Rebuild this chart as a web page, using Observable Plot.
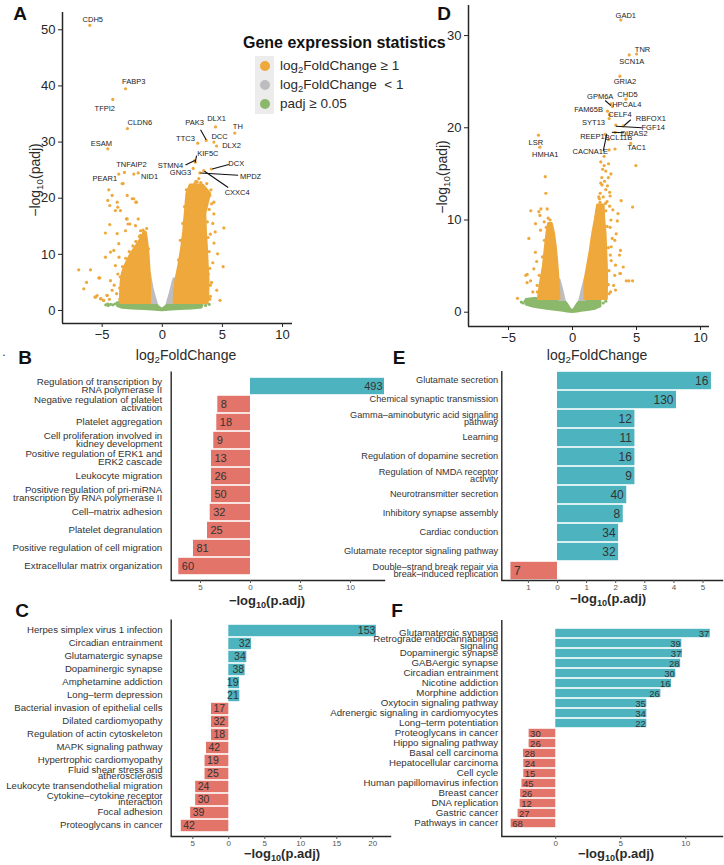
<!DOCTYPE html>
<html><head><meta charset="utf-8">
<script src="https://cdn.jsdelivr.net/npm/d3@7"></script>
<script src="https://cdn.jsdelivr.net/npm/@observablehq/plot@0.6"></script>
<style>
body{margin:0;background:#fff;}
#fig{position:relative;width:724px;height:865px;overflow:hidden;font-family:"Liberation Sans",Arial,Helvetica,sans-serif;color:#2b2b2b;background:#fff;}
.t{position:absolute;white-space:nowrap;line-height:1;}
</style></head>
<body><div id="fig"></div>
<script>
// ---------------- Panel A (volcano) ----------------
const aGreenX  = [-3.7, -3.3, -2.5, -1.5, -0.8, -0.5, -0.3, 0, 0.3, 0.5, 0.8, 1.5, 2.5, 3.3];
const aGreenLo = [0.75, 0.45, 0.3, 0.2, 0.12, 0.08, 0.05, 0.0, 0.05, 0.08, 0.12, 0.2, 0.3, 0.5];
const aGreenHi = [1.35, 1.4, 1.45, 1.45, 1.45, 1.2, 0.6, 0.15, 0.6, 1.2, 1.45, 1.45, 1.45, 1.3];
const aGreenDotX = [-4.7, -4.5, -4.3, -4.1, -3.9, -4.55, 3.3, 3.6, 3.9];
const aGreenDotY = [1.0, 0.9, 1.1, 1.0, 1.2, 1.15, 1.0, 0.9, 1.1];
const aGrayLY  = [1.3, 2.5, 4, 5.5, 6.5];
const aGrayLX1 = [-1.0, -1.0, -1.0, -1.0, -1.0];
const aGrayLX2 = [-0.45, -0.62, -0.8, -0.93, -1.0];
const aGrayRY  = [1.3, 2.5, 4, 5.0, 5.6];
const aGrayRX1 = [0.45, 0.62, 0.8, 0.92, 1.0];
const aGrayRX2 = [1.0, 1.0, 1.0, 1.0, 1.0];
const aOrLY  = [1.3, 3, 5, 6.5, 7.5, 8.5, 9.8, 10.8, 11.6, 12.8, 13.9];
const aOrLX1 = [-3.45, -3.45, -3.4, -3.3, -3.15, -2.95, -2.65, -2.35, -2.1, -1.75, -1.45];
const aOrLX2 = [-1.0, -1.0, -1.0, -1.02, -1.05, -1.08, -1.12, -1.16, -1.2, -1.27, -1.35];
const aOrRY  = [1.3, 3, 5.3, 8, 11.3, 14, 17.2, 19, 20.8, 22.3];
const aOrRX1 = [1.0, 1.05, 1.15, 1.4, 1.65, 1.8, 1.93, 2.0, 2.07, 2.35];
const aOrRX2 = [3.8, 3.85, 3.87, 3.8, 3.73, 3.65, 3.6, 3.8, 4.0, 3.4];
const aDotX = [-6.95,-5.97,-6.3,-6.53,-5.28,-5.2,-5.56,-5.14,-4.87,-4.73,-4.31,-4.73,-4.37,-4.17,-4.37,-3.75,-3.9,-3.48,-2.92,-2.5,-2.15,-2.92,-2.7,-2.0,-3.75,-3.62,-4.03,-4.31,-4.17,-4.58,-5.42,-1.81,-1.54,-2.23,-4.53,-4.45,-3.7,-3.34,-2.37,-2.2,-2.98,-2.85,-3.06,-1.81,-1.7,-3.26,-4.9,-4.6,-5.1,-5.6,-4.4,-3.9,-3.7,-4.0,-3.8,-3.6,-2.37,
  5.12,5.06,2.35,3.32,3.55,3.96,4.29,2.5,2.1,1.9,1.7,4.29,4.0,4.6,3.83,4.53,4.8,3.04,2.4,2.8,3.7,4.1,4.2,4.3,4.2,4.1,4.0,2.2,1.85,1.6,1.45,4.4,3.6,3.3,2.6,2.0];
const aDotY = [7.25,7.25,5.0,3.86,5.8,5.8,2.37,2.08,1.78,9.5,10.4,13.8,15.3,20.5,18.7,19.3,17.8,17.8,20.5,19.9,19.3,16.3,15.4,16.3,13.7,11.9,10.7,5.3,3.6,2.67,2.67,13.4,13.9,15.1,19.6,21.5,18.4,22.6,19.9,19.3,16.3,15.4,14.2,14.2,13.0,22.6,1.8,2.7,2.1,2.4,2.0,8.0,6.5,4.5,3.0,9.5,24.3,
  14.7,7.8,22.3,22.0,21.1,20.5,19.3,18.4,17.2,13.6,10.1,17.2,13.6,10.1,6.5,3.6,1.8,23.5,22.2,23.0,22.6,19.0,15.5,12.0,8.5,5.0,2.5,20.0,16.0,12.5,8.5,14.0,18.8,20.5,21.0,19.5];
const aEdgeX = [1.05,1.2,1.35,1.5,1.7,1.85,2.0,3.95,4.0,3.95,3.9,3.8,3.75,3.9,4.05,3.2,2.7,2.9,
  -3.55,-3.55,-3.5,-3.3,-3.05,-2.75,-2.45,-2.2,-1.9,-1.6,-1.3,-1.15];
const aEdgeY = [3.5,6.0,9.0,12.5,15.5,18.5,21.5,2.0,4.5,7.5,10.5,13.0,15.8,18.0,21.5,22.8,22.6,22.9,
  2.0,4.0,6.0,7.8,9.3,10.5,11.5,12.3,13.2,14.3,14.6,11.0];
const aGeneNames = ["CDH5","FABP3","TFPI2","CLDN6","ESAM","TNFAIP2","PEAR1","NID1","PAK3","DLX1","TH","TTC3","DCC","DLX2","KIF5C","STMN4","GNG3","DCX","MPDZ","CXXC4"];
const aGeneX  = [-6.03,-3.06,-4.12,-2.9,-4.53,-3.15,-3.62,-2.0,3.65,4.43,6.03,2.95,4.29,4.51,2.74,2.7,2.57,4.07,3.12,3.45];
const aGeneY  = [50.8,39.5,37.6,32.4,28.8,24.6,24.3,24.5,30.3,32.7,31.6,29.8,30.0,29.3,26.4,26.7,25.3,25.2,24.5,24.9];
const aLabelX = [-5.78,-2.37,-4.78,-1.87,-5.06,-2.56,-4.78,-1.06,2.68,4.51,6.28,1.93,4.76,5.76,3.79,0.68,1.51,6.15,7.34,6.23];
const aLabelY = [51.9,40.8,36.0,33.4,29.8,25.95,23.5,23.9,33.5,34.15,32.8,30.6,31.0,29.3,27.9,25.8,24.5,26.1,23.9,21.0];
const aSegX1 = [3.18, 1.93, 2.85, 5.53, 6.31, 5.48];
const aSegY1 = [32.2, 25.9, 27.6, 26.0, 24.1, 21.9];
const aSegX2 = [3.65, 2.7, 2.74, 4.15, 3.18, 3.51];
const aSegY2 = [30.4, 26.7, 26.4, 25.2, 24.5, 24.8];
const aYTicks = [0, 10, 20, 30, 40, 50];

// ---------------- Panel D (volcano) ----------------
const dGreenX  = [-3.6, -3.0, -2.0, -1.2, -0.7, -0.4, -0.2, 0, 0.2, 0.4, 0.7, 1.2, 1.8, 2.2];
const dGreenLo = [0.8, 0.55, 0.35, 0.2, 0.12, 0.06, 0.03, 0, 0.03, 0.06, 0.12, 0.2, 0.35, 0.6];
const dGreenHi = [1.35, 1.45, 1.45, 1.45, 1.35, 0.85, 0.4, 0.1, 0.4, 0.85, 1.35, 1.45, 1.45, 1.35];
const dGreenDotX = [-4.0, -3.85, -3.7, 2.4, 2.6];
const dGreenDotY = [1.1, 1.0, 1.2, 1.0, 1.2];
const dGrayLY  = [1.3, 2.2, 3.0, 3.5];
const dGrayLX1 = [-1.0, -1.0, -1.0, -1.0];
const dGrayLX2 = [-0.6, -0.75, -0.9, -1.0];
const dGrayRY  = [1.3, 2.2, 3.0, 3.5];
const dGrayRX1 = [0.6, 0.75, 0.9, 1.0];
const dGrayRX2 = [1.0, 1.0, 1.0, 1.0];
const dOrLY  = [1.4, 3, 5, 7, 8.5, 9.6];
const dOrLX1 = [-2.65, -2.5, -2.25, -2.1, -1.98, -1.85];
const dOrLX2 = [-1.0, -1.05, -1.15, -1.28, -1.42, -1.6];
const dOrRY  = [1.4, 3.5, 5, 6.7, 8.5, 10, 11.6];
const dOrRX1 = [1.0, 1.0, 1.2, 1.41, 1.6, 1.8, 1.98];
const dOrRX2 = [2.7, 2.72, 2.7, 2.65, 2.6, 2.5, 2.45];
const dDotX = [-2.13,-2.08,-2.47,-3.26,-2.55,-2.21,-1.79,-3.65,-3.55,-4.3,-3.28,-3.54,-2.76,-2.5,-3.02,-3.41,-2.89,-2.63,-1.98,-2.5,-2.9,-3.1,-2.8,-1.9,-1.7,
  2.21,2.47,2.81,3.0,2.29,2.73,2.16,2.94,2.57,3.15,3.55,3.41,3.02,3.67,3.02,4.2,4.69,4.69,4.95,3.8,3.32,3.5,2.94,3.3,3.96,3.7,2.8,2.47,
  3.75,3.36,3.75,3.21,4.4,2.97,3.36,3.0,2.9,2.3,2.6,3.1,3.3,2.95,2.1,2.4,2.7,2.2,2.5,2.35,2.8,2.15,2.9,2.6];
const dDotY = [14.7,12.9,11.2,11.0,10.5,9.8,8.9,4.0,3.2,1.5,3.4,4.1,2.9,2.0,4.7,8.0,9.6,10.9,11.2,8.9,6.5,2.2,5.5,10.2,9.5,
  16.3,15.9,16.1,15.0,14.6,13.7,12.9,12.6,11.8,11.1,10.7,8.5,7.1,6.2,5.6,3.4,3.4,11.4,15.9,12.1,17.7,9.9,9.2,7.8,4.9,4.2,3.0,16.9,
  6.7,5.1,4.2,2.9,3.4,2.2,2.4,10.0,13.0,13.8,15.3,8.0,4.0,6.2,12.3,12.5,12.0,14.0,14.2,15.5,14.6,11.9,11.5,13.3];
const dEdgeX = [-2.75,-2.6,-2.35,-2.2,-2.05,-1.75,-1.5,-1.3,2.85,2.85,2.8,2.7,2.6,1.3,1.55,1.9,2.05];
const dEdgeY = [2.2,4.0,6.0,7.8,9.2,10.0,8.0,6.0,2.0,4.5,7.0,9.3,11.0,5.5,8.0,11.0,12.5];
const dGeneNames = ["GAD1","TNR","SCN1A","GRIA2","CHD5","GPM6A","HPCAL4","FAM65B","CELF4","SYT13","RBFOX1","FGF14","DIRAS2","REEP1","BCL11B","CACNA1E","TAC1","LSR","HMHA1"];
const dGeneX  = [3.77,5.0,4.43,3.7,4.17,3.0,3.12,2.73,2.91,2.86,3.96,3.38,3.33,2.55,2.81,2.86,4.55,-2.66,-2.55];
const dGeneY  = [31.7,28.0,27.9,25.6,23.1,22.6,22.3,21.8,21.4,21.0,20.2,20.3,19.5,19.3,18.7,17.6,18.3,19.2,17.9];
const dLabelX = [4.16,5.47,4.63,4.09,4.3,2.16,4.24,1.25,3.7,1.64,6.12,6.3,4.82,1.56,3.59,1.38,5.0,-2.87,-2.13];
const dLabelY = [32.18,28.5,27.2,25.0,23.6,23.4,22.5,21.95,21.4,20.6,20.98,20.07,19.4,19.06,18.9,17.43,17.9,18.4,17.1];
const dSegX1 = [2.55, 4.55, 5.42, 4.04, 2.68];
const dSegY1 = [22.96, 20.87, 20.0, 19.46, 19.35];
const dSegX2 = [3.0, 4.04, 3.38, 3.07, 2.4];
const dSegY2 = [22.4, 20.25, 20.17, 19.52, 17.46];
const dYTicks = [0, 10, 20, 30];
const volcanoXTicks = [-5, 0, 5, 10];

// ---------------- Panel B ----------------
const bCategories = ["Regulation of transcription by\nRNA polymerase II","Negative regulation of platelet\nactivation","Platelet aggregation","Cell proliferation involved in\nkidney development","Positive regulation of ERK1 and\nERK2 cascade","Leukocyte migration","Positive regulation of pri-miRNA\ntranscription by RNA polymerase II","Cell–matrix adhesion","Platelet degranulation","Positive regulation of cell migration","Extracellular matrix organization"];
const bValues = [13.4, -3.27, -3.37, -3.67, -3.9, -3.9, -3.9, -4.03, -4.3, -5.7, -7.17];
const bCounts = [493, 8, 18, 9, 13, 26, 50, 32, 25, 81, 60];
const bTicks = [-5, 0, 5, 10];

// ---------------- Panel E ----------------
const eCategories = ["Glutamate secretion","Chemical synaptic transmission","Gamma–aminobutyric acid signaling\npathway","Learning","Regulation of dopamine secretion","Regulation of NMDA receptor\nactivity","Neurotransmitter secretion","Inhibitory synapse assembly","Cardiac conduction","Glutamate receptor signaling pathway","Double–strand break repair via\nbreak–induced replication"];
const eValues = [5.29, 4.09, 2.66, 2.66, 2.66, 2.66, 2.38, 2.26, 2.1, 2.1, -1.6];
const eCounts = [16, 130, 12, 11, 16, 9, 40, 8, 34, 32, 7];
const eTicks = [-1, 0, 1, 2, 3, 4, 5];

// ---------------- Panel C ----------------
const cCategories = ["Herpes simplex virus 1 infection","Circadian entrainment","Glutamatergic synapse","Dopaminergic synapse","Amphetamine addiction","Long–term depression","Bacterial invasion of epithelial cells","Dilated cardiomyopathy","Regulation of actin cytoskeleton","MAPK signaling pathway","Hypertrophic cardiomyopathy","Fluid shear stress and\natherosclerosis","Leukocyte transendothelial migration","Cytokine–cytokine receptor\ninteraction","Focal adhesion","Proteoglycans in cancer"];
const cValues = [20.5, 3.15, 2.5, 2.27, 1.49, 1.53, -2.4, -2.4, -2.4, -3.1, -3.3, -3.3, -4.6, -4.6, -5.3, -6.6];
const cCounts = [153, 32, 34, 38, 19, 21, 17, 32, 18, 42, 19, 25, 24, 30, 39, 42];
const cTicks = [-5, 0, 5, 10, 15, 20];

// ---------------- Panel F ----------------
const fCategories = ["Glutamatergic synapse","Retrograde endocannabinoid\nsignaling","Dopaminergic synapse","GABAergic synapse","Circadian entrainment","Nicotine addiction","Morphine addiction","Oxytocin signaling pathway","Adrenergic signaling in cardiomyocytes","Long–term potentiation","Proteoglycans in cancer","Hippo signaling pathway","Basal cell carcinoma","Hepatocellular carcinoma","Cell cycle","Human papillomavirus infection","Breast cancer","DNA replication","Gastric cancer","Pathways in cancer"];
const fValues = [11.88, 9.69, 9.74, 9.6, 9.23, 8.9, 8.08, 7.0, 7.0, 7.0, -2.05, -2.05, -2.48, -2.46, -2.46, -2.6, -2.7, -2.74, -2.9, -3.43];
const fCounts = [37, 39, 37, 28, 30, 16, 26, 35, 34, 22, 30, 26, 28, 24, 15, 45, 26, 12, 27, 68];
const fTicks = [0, 5, 10];

const legendLabels = ["log<sub>2</sub>FoldChange ≥ 1", "log<sub>2</sub>FoldChange &nbsp;< 1", "padj ≥ 0.05"];

// ---------------- drawing ----------------
const FONT = '"Liberation Sans", Arial, Helvetica, sans-serif';
const ORANGE = "#eea83b", GRAY = "#bdbdc1", GREEN = "#8cb86b", TEAL = "#4db3be", SALMON = "#e2746a";
const AXIS = "#262626";
const fig = document.getElementById("fig");
const fmtMinus = d => d < 0 ? "\u2212" + Math.abs(d) : String(d);
function zip(keys, ...arrs) { return arrs[0].map((_, i) => Object.fromEntries(keys.map((k, j) => [k, arrs[j][i]]))); }
function mount(svg, left, top, w, h) {
  const d = document.createElement("div");
  d.style.cssText = `position:absolute;left:${left}px;top:${top}px;width:${w}px;height:${h}px;`;
  d.appendChild(svg); fig.appendChild(d);
}
function txt(html, x, y, css = "", tf = "translate(-50%,-50%)") {
  const d = document.createElement("div");
  d.className = "t";
  d.style.cssText = `left:${x}px;top:${y}px;transform:${tf};${css}`;
  d.innerHTML = html; fig.appendChild(d);
}
const sub = s => `<span style="font-size:0.7em;position:relative;top:0.32em;">${s}</span>`;
const baseStyle = {background: "transparent", fontFamily: FONT, color: AXIS, overflow: "visible"};

function volcano(c) {
  return Plot.plot({
    width: c.W, height: c.H, marginLeft: c.mL, marginRight: c.mR, marginTop: c.mT, marginBottom: c.mB,
    x: {domain: c.xDom}, y: {domain: c.yDom},
    style: baseStyle,
    marks: [
      Plot.areaY(zip(["x","lo","hi"], c.gx, c.glo, c.ghi), {x: "x", y1: "lo", y2: "hi", fill: GREEN, stroke: GREEN, strokeWidth: 2.5}),
      Plot.dot(zip(["x","y"], c.gdx, c.gdy), {x: "x", y: "y", r: 1.6, fill: GREEN}),
      Plot.areaX(zip(["y","x1","x2"], c.glY, c.glX1, c.glX2), {y: "y", x1: "x1", x2: "x2", fill: GRAY, stroke: GRAY, strokeWidth: 2.5}),
      Plot.areaX(zip(["y","x1","x2"], c.grY, c.grX1, c.grX2), {y: "y", x1: "x1", x2: "x2", fill: GRAY, stroke: GRAY, strokeWidth: 2.5}),
      Plot.areaX(zip(["y","x1","x2"], c.olY, c.olX1, c.olX2), {y: "y", x1: "x1", x2: "x2", fill: ORANGE, stroke: ORANGE, strokeWidth: 2.5}),
      Plot.areaX(zip(["y","x1","x2"], c.orY, c.orX1, c.orX2), {y: "y", x1: "x1", x2: "x2", fill: ORANGE, stroke: ORANGE, strokeWidth: 2.5}),
      Plot.dot(zip(["x","y"], c.ex, c.ey), {x: "x", y: "y", r: 1.6, fill: ORANGE}),
      Plot.dot(zip(["x","y"], c.dx, c.dy), {x: "x", y: "y", r: 1.6, fill: ORANGE}),
      Plot.dot(zip(["x","y"], c.genX, c.genY), {x: "x", y: "y", r: 1.6, fill: ORANGE}),
      Plot.link(zip(["x1","y1","x2","y2"], c.sx1, c.sy1, c.sx2, c.sy2), {x1: "x1", y1: "y1", x2: "x2", y2: "y2", stroke: "#111", strokeWidth: 1.1}),
      Plot.text(zip(["x","y","t"], c.labX, c.labY, c.names), {x: "x", y: "y", text: "t", fontSize: 7.5, fill: "#222"}),
      Plot.ruleX([c.xDom[0]], {stroke: AXIS, strokeWidth: 1.5}),
      Plot.ruleY([c.yDom[0]], {stroke: AXIS, strokeWidth: 1.5}),
      Plot.axisX({ticks: volcanoXTicks, tickFormat: fmtMinus, tickSize: 4, tickPadding: 2, fontSize: 13, label: null}),
      Plot.axisY({ticks: c.yTicks, tickFormat: fmtMinus, tickSize: 4, tickPadding: 3, fontSize: 13, label: null})
    ]
  });
}

function bars(c) {
  const rows = zip(["cat","v","n"], c.cats, c.vals, c.counts);
  const pos = rows.filter(d => d.v > 0), neg = rows.filter(d => d.v < 0);
  return Plot.plot({
    width: c.W, height: c.H, marginLeft: c.mL, marginRight: c.mR, marginTop: c.mT, marginBottom: c.mB,
    x: {domain: c.xDom}, y: {domain: c.cats, axis: null, padding: 0},
    style: baseStyle,
    marks: [
      Plot.barX(pos, {y: "cat", x: "v", fill: TEAL, insetTop: 0.8, insetBottom: 0.8}),
      Plot.barX(neg, {y: "cat", x: "v", fill: SALMON, insetTop: 0.8, insetBottom: 0.8}),
      Plot.text(pos, {y: "cat", x: "v", text: "n", textAnchor: "end", dx: c.posDx, fontSize: c.numSize, fill: "#333"}),
      Plot.text(neg, {y: "cat", x: "v", text: "n", textAnchor: "start", dx: c.negDx, fontSize: c.numSize, fill: "#333"}),
      Plot.text(rows, {y: "cat", frameAnchor: "left", text: "cat", textAnchor: "end", dx: c.catDx, fontSize: c.catSize, lineHeight: c.lh, fill: "#333"}),
      Plot.ruleX([c.xDom[0]], {stroke: AXIS, strokeWidth: 1.4}),
      Plot.frame({anchor: "bottom", stroke: AXIS, strokeWidth: 1.4}),
      Plot.axisX({ticks: c.ticks, tickFormat: d => String(Math.abs(d)), tickSize: 3, tickPadding: 1, fontSize: 8, label: null, fill: "#555", stroke: "#555"})
    ]
  });
}

mount(volcano({W: 362, H: 345, mL: 62, mR: 70, mT: 12, mB: 22, xDom: [-8.3, 10.83], yDom: [-2.32, 53.08], yTicks: aYTicks,
  gx: aGreenX, glo: aGreenLo, ghi: aGreenHi, gdx: aGreenDotX, gdy: aGreenDotY,
  glY: aGrayLY, glX1: aGrayLX1, glX2: aGrayLX2, grY: aGrayRY, grX1: aGrayRX1, grX2: aGrayRX2,
  olY: aOrLY, olX1: aOrLX1, olX2: aOrLX2, orY: aOrRY, orX1: aOrRX1, orX2: aOrRX2, ex: aEdgeX, ey: aEdgeY,
  dx: aDotX, dy: aDotY, genX: aGeneX, genY: aGeneY, labX: aLabelX, labY: aLabelY, names: aGeneNames,
  sx1: aSegX1, sy1: aSegY1, sx2: aSegX2, sy2: aSegY2}), 0, 0, 362, 345);

mount(volcano({W: 362, H: 345, mL: 106, mR: 15, mT: 5, mB: 19, xDom: [-8.125, 10.7], yDom: [-1.55, 33.26], yTicks: dYTicks,
  gx: dGreenX, glo: dGreenLo, ghi: dGreenHi, gdx: dGreenDotX, gdy: dGreenDotY,
  glY: dGrayLY, glX1: dGrayLX1, glX2: dGrayLX2, grY: dGrayRY, grX1: dGrayRX1, grX2: dGrayRX2,
  olY: dOrLY, olX1: dOrLX1, olX2: dOrLX2, orY: dOrRY, orX1: dOrRX1, orX2: dOrRX2, ex: dEdgeX, ey: dEdgeY,
  dx: dDotX, dy: dDotY, genX: dGeneX, genY: dGeneY, labX: dLabelX, labY: dLabelY, names: dGeneNames,
  sx1: dSegX1, sy1: dSegY1, sx2: dSegX2, sy2: dSegY2}), 362, 0, 362, 345);

mount(bars({cats: bCategories, vals: bValues, counts: bCounts, ticks: bTicks, W: 400, H: 262, mL: 170.7, mR: 16, mT: 31.5, mB: 22,
  xDom: [-7.93, 13.4], catSize: 9.7, catDx: -9, lh: 0.86, numSize: 11, posDx: -2, negDx: 3}), 0, 340, 400, 262);
mount(bars({cats: eCategories, vals: eValues, counts: eCounts, ticks: eTicks, W: 424, H: 262, mL: 201.3, mR: 2, mT: 31, mB: 22,
  xDom: [-1.914, 5.67], catSize: 9.2, catDx: -3.6, lh: 0.78, numSize: 12, posDx: -3, negDx: 3}), 300, 340, 424, 262);
mount(bars({cats: cCategories, vals: cValues, counts: cCounts, ticks: cTicks, W: 400, H: 265, mL: 170.7, mR: 10, mT: 19.5, mB: 29,
  xDom: [-8.0, 22.46], catSize: 9.6, catDx: -8.7, lh: 0.66, numSize: 10.5, posDx: -1, negDx: 2}), 0, 600, 400, 265);
mount(bars({cats: fCategories, vals: fValues, counts: fCounts, ticks: fTicks, W: 424, H: 265, mL: 201.3, mR: 2, mT: 20, mB: 29,
  xDom: [-4.15, 12.82], catSize: 9.7, catDx: -3.6, lh: 0.66, numSize: 9.5, posDx: -1, negDx: 1}), 300, 600, 424, 265);

// axis titles
txt(`log${sub("2")}FoldChange`, 186, 355, "font-size:14px;");
txt(`log${sub("2")}FoldChange`, 597, 355, "font-size:14px;");
txt(`\u2212log${sub("10")}(padj)`, 35, 180, "font-size:14px;", "translate(-50%,-50%) rotate(-90deg)");
txt(`\u2212log${sub("10")}(padj)`, 442, 177, "font-size:14px;", "translate(-50%,-50%) rotate(-90deg)");
txt(`\u2212log${sub("10")}(p.adj)`, 267, 601, "font-size:13px;font-weight:bold;");
txt(`\u2212log${sub("10")}(p.adj)`, 608, 599, "font-size:13px;font-weight:bold;");
txt(`\u2212log${sub("10")}(p.adj)`, 282, 854, "font-size:13px;font-weight:bold;");
txt(`\u2212log${sub("10")}(p.adj)`, 616, 854, "font-size:13px;font-weight:bold;");

// panel letters
const letterCss = "font-size:19px;font-weight:bold;color:#111;";
txt("A", 20, 13, letterCss); txt("D", 444, 13, letterCss);
txt("B", 25, 357, letterCss); txt("E", 399, 357, letterCss);
txt("C", 22, 610, letterCss); txt("F", 397, 610, letterCss);
txt(".", 4, 352, "font-size:12px;");

// legend
txt("Gene expression statistics", 243, 43, "font-size:16px;font-weight:bold;color:#111;", "translate(0,-50%)");
const keyBox = document.createElement("div");
keyBox.style.cssText = "position:absolute;left:255px;top:56px;width:19px;height:58px;background:#ececec;";
fig.appendChild(keyBox);
const keyColors = [ORANGE, GRAY, GREEN];
const keyY = [65.5, 84.5, 104];
keyColors.forEach((col, i) => {
  const d = document.createElement("div");
  d.style.cssText = `position:absolute;left:${264.5-5}px;top:${keyY[i]-5}px;width:10px;height:10px;border-radius:50%;background:${col};`;
  fig.appendChild(d);
  txt(legendLabels[i].replace("<sub>2</sub>", sub("2")), 280, keyY[i], "font-size:13.5px;", "translate(0,-50%)");
});
</script>
</body></html>
